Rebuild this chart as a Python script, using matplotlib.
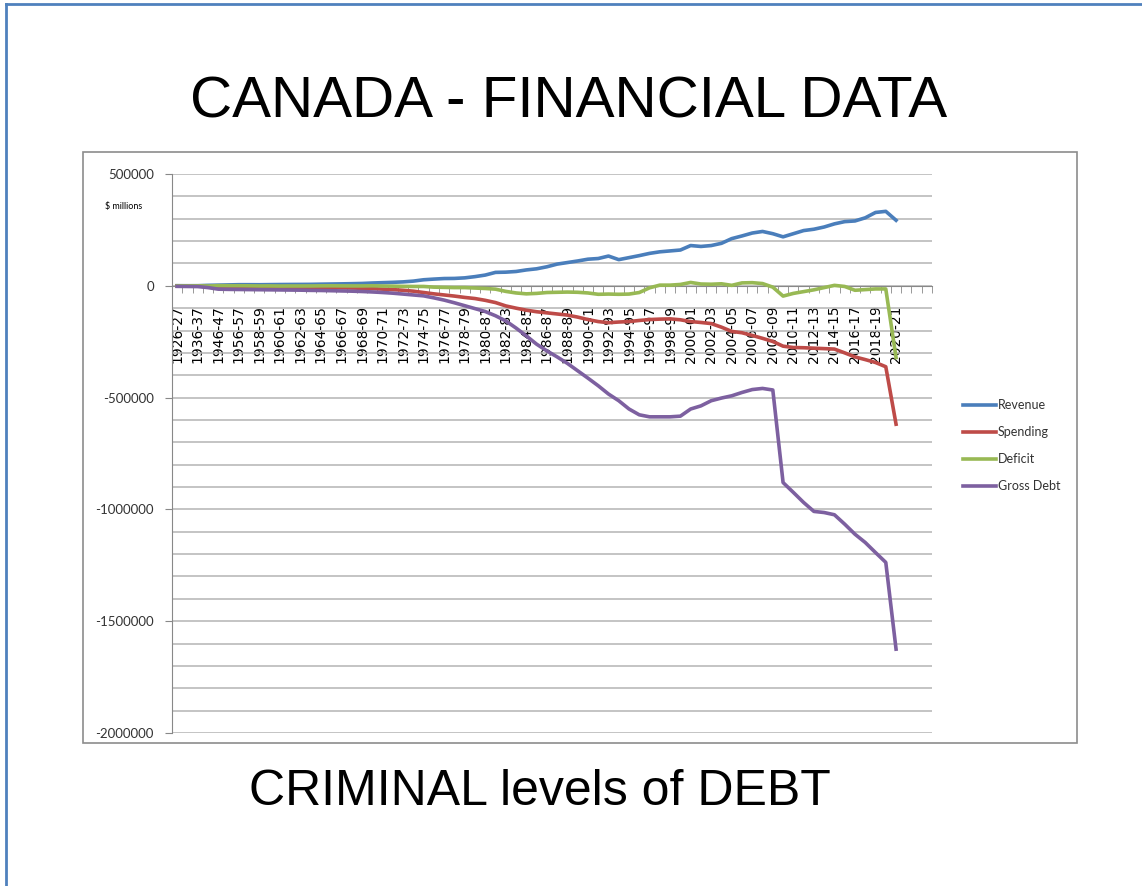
import numpy as np
import matplotlib
matplotlib.use("Agg")
import matplotlib.pyplot as plt
from matplotlib.lines import Line2D
from matplotlib.patches import Rectangle

# ---------------- data ($ millions) ----------------
years = ["1926-27", "1931-32", "1936-37", "1941-42", "1946-47", "1951-52"] + \
        ["%d-%02d" % (y, (y + 1) % 100) for y in range(1956, 2021)]

revenue = [400, 300, 450, 2000, 3000, 4000, 5000, 5000, 4800, 5300,
           5700, 6000, 6200, 6500, 7300, 8000, 8700, 9500, 10500, 12500,
           14000, 15500, 17500, 21000, 27000, 30000, 32500, 33000, 35500, 41000,
           48000, 60000, 61000, 64000, 71000, 76000, 85000, 97000, 104000, 111000,
           119000, 122000, 133000, 117000, 126000, 135000, 145000, 152000, 156000, 160000,
           180000, 176000, 180000, 190000, 211000, 223000, 236000, 243000, 233000, 219000,
           233000, 247000, 253000, 263000, 277000, 287000, 290000, 304000, 328000, 333000,
           293000]

spending = [-300, -450, -530, -4000, -5000, -4000, -5000, -5100, -5500, -6000,
            -6700, -6800, -7000, -7200, -7500, -8000, -9000, -10000, -11000, -12500,
            -15000, -17000, -20000, -24000, -30000, -36000, -41000, -46000, -52000, -57000,
            -65000, -75000, -90000, -100000, -109000, -116000, -121000, -126000, -131000, -140000,
            -151000, -160000, -165000, -162000, -160000, -155000, -151000, -149000, -148000, -152000,
            -160000, -164000, -169000, -185000, -204000, -210000, -222000, -235000, -249000, -270000,
            -276000, -277000, -279000, -281000, -283000, -300000, -318000, -330000, -343000, -362000,
            -619000]

deficit = [100, -150, -80, -1000, 500, 300, 300, -100, -700, -500,
           -1000, -800, -800, -700, -200, 0, -300, -500, -500, 0,
           -1000, -1500, -2500, -3000, -3000, -6000, -7000, -8000, -8000, -10000,
           -12000, -15000, -25000, -32000, -36000, -34000, -30000, -29000, -28000, -29000,
           -32000, -38000, -37000, -38000, -37000, -30000, -9000, 3000, 3000, 6000,
           15000, 8000, 7000, 9000, 2000, 13000, 14000, 10000, -6000, -46000,
           -34000, -26000, -18000, -8000, 2000, -3000, -20000, -17000, -14000, -14000,
           -321000]

gross_debt = [-2500, -3000, -3500, -8000, -15000, -16000, -16500, -17000, -17500, -18000,
              -18500, -19000, -19500, -20500, -21000, -22000, -23000, -24000, -25500, -27500,
              -30000, -33000, -37000, -41000, -45000, -54000, -64000, -76000, -89000, -102000,
              -115000, -134000, -157000, -189000, -224000, -261000, -291000, -318000, -347000, -380000,
              -413000, -447000, -484000, -514000, -551000, -577000, -586000, -586000, -586000, -583000,
              -551000, -537000, -514000, -502000, -492000, -477000, -464000, -459000, -466000, -880000,
              -924000, -969000, -1009000, -1014000, -1024000, -1066000, -1111000, -1148000, -1193000, -1237000,
              -1625000]

series_names = ["Revenue", "Spending", "Deficit", "Gross Debt"]
colors = ["#4A7EBB", "#BE4B48", "#98B954", "#7D60A0"]

# ---------------- figure ----------------
fig = plt.figure(figsize=(11.42, 8.86), dpi=100)
fig.patch.set_facecolor("white")

# page border (left and top)
fig.add_artist(Line2D([0.005, 0.005], [0.0, 0.996], transform=fig.transFigure, color="#4F81BD", lw=2))
fig.add_artist(Line2D([0.005, 1.0], [0.996, 0.996], transform=fig.transFigure, color="#4F81BD", lw=2))

# chart area frame
fig.add_artist(Rectangle((83 / 1142, 1 - 743 / 886), (1077 - 83) / 1142, (743 - 152) / 886,
                         transform=fig.transFigure, fill=False, edgecolor="#8c8c8c", lw=1.2))

fig.text(0.498, 1 - 102 / 886, "CANADA - FINANCIAL DATA", ha="center", va="center",
         fontsize=42, family="Liberation Sans")
fig.text(0.473, 1 - 792 / 886, "CRIMINAL levels of DEBT", ha="center", va="center",
         fontsize=36, family="Liberation Sans")
fig.text(105 / 1142, 1 - 206 / 886, "$ millions", ha="left", va="center",
         fontsize=6.5, family="Lato")

ax = fig.add_axes([172 / 1142, 1 - 733 / 886, (932 - 172) / 1142, (733 - 174) / 886])
x = np.arange(len(years))

for vals, name, c in zip([revenue, spending, deficit, gross_debt], series_names, colors):
    ax.plot(x, vals, color=c, lw=2.6, label=name, solid_joinstyle="round", zorder=3)

ax.set_xlim(-0.5, 73.5)
ax.set_ylim(-2000000, 500000)

# tick styling first, labels after (tick_params can rebuild ticks)
ax.tick_params(axis="y", which="major", length=5, color="#888888", pad=8)
ax.tick_params(axis="y", which="minor", length=0)
ax.tick_params(axis="x", which="major", length=0, pad=14, labelrotation=90)
ax.tick_params(axis="x", which="minor", length=5, color="#888888", direction="out")

ax.set_yticks(np.arange(-2000000, 500001, 500000))
ax.set_yticks(np.arange(-2000000, 500001, 100000), minor=True)
ax.set_yticklabels([str(v) for v in range(-2000000, 500001, 500000)],
                   fontsize=9.5, family="Lato", color="#333333")
ax.grid(True, which="both", axis="y", color="#b4b4b4", lw=1.1, zorder=0)

ax.set_xticks(x[::2])
ax.set_xticks(np.arange(-0.5, 73.6, 1), minor=True)
ax.set_xticklabels(years[::2], rotation=90, fontsize=8, family="Lato", color="#333333")

ax.spines["top"].set_visible(False)
ax.spines["right"].set_visible(False)
ax.spines["left"].set_color("#888888")
ax.spines["bottom"].set_position(("data", 0))
ax.spines["bottom"].set_color("#888888")
ax.spines["bottom"].set_zorder(2)

leg = fig.legend(loc="upper left", bbox_to_anchor=(963 / 1142, 1 - 399 / 886), frameon=False,
                 prop={"family": "Lato", "size": 9}, handlelength=2.6, handletextpad=0.2,
                 labelspacing=1.2, borderpad=0, borderaxespad=0)
for t in leg.get_texts():
    t.set_color("#333333")

fig.savefig("out.png", dpi=100)
